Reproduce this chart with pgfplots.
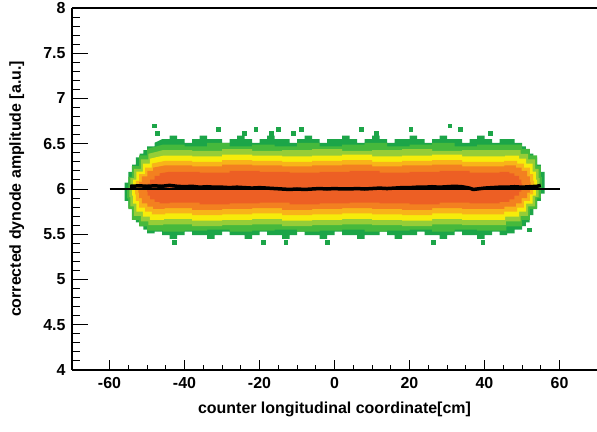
\documentclass[border=0pt]{standalone}
\usepackage{fontspec}
\setmainfont{Liberation Sans}
\usepackage{pgfplots}
\pgfplotsset{compat=1.18}

\definecolor{dgreen}{RGB}{28,165,72}
\definecolor{mgreen}{RGB}{70,185,60}
\definecolor{lime}{RGB}{150,205,55}
\definecolor{yell}{RGB}{246,236,10}
\definecolor{gold}{RGB}{248,180,25}
\definecolor{oran}{RGB}{243,128,32}
\definecolor{redor}{RGB}{237,95,36}

\begin{document}
\begin{tikzpicture}
\path[use as bounding box] (0,0) rectangle (597bp,432bp);
\begin{axis}[
    at={(72bp,62bp)}, anchor=south west,
    width=525bp, height=362bp, scale only axis,
    xmin=-70, xmax=70, ymin=4, ymax=8,
    axis x line*=box, axis y line*=left,
    tick pos=left, tick align=inside,
    xtick={-60,-40,...,60}, ytick={4,4.5,...,8},
    minor x tick num=3, minor y tick num=4,
    xtick style={/pgfplots/major tick length=10bp, /pgfplots/minor tick length=5bp},
    ytick style={/pgfplots/major tick length=16bp, /pgfplots/minor tick length=8bp},
    every tick/.style={black, line width=0.9bp},
    axis line style={line width=1.3bp},
    /pgf/number format/assume math mode=true,
    ticklabel style={font=\bfseries\fontsize{16}{18}\selectfont},
    xticklabel style={yshift=-4bp},
    yticklabel style={xshift=-3bp},
    label style={font=\bfseries\fontsize{16}{18}\selectfont},
    xlabel={counter longitudinal coordinate[cm]},
    ylabel={corrected dynode amplitude [a.u.]},
    xlabel style={at={(axis description cs:0.5,-0.11)}, anchor=center},
    ylabel style={at={(axis description cs:-0.105,0.5)}, anchor=center},
]
% density layers of the 2D histogram, outer to inner
\addplot[fill=dgreen, draw=none, const plot] coordinates {
 (-46,6.55) (-44,6.59) (-42,6.55) (-40,6.51) (-38,6.55) (-36,6.59) (-34,6.55) (-32,6.55) (-30,6.51) (-28,6.55)
 (-26,6.59) (-24,6.55) (-22,6.51) (-20,6.55) (-18,6.59) (-16,6.55) (-14,6.55) (-12,6.51) (-10,6.55) (-8,6.59)
 (-6,6.55) (-4,6.51) (-2,6.55) (0,6.55) (2,6.59) (4,6.55) (6,6.51) (8,6.55) (10,6.59) (12,6.55) (14,6.51)
 (16,6.55) (18,6.55) (20,6.59) (22,6.55) (24,6.51) (26,6.55) (28,6.59) (30,6.55) (32,6.55) (34,6.51)
 (36,6.55) (38,6.59) (40,6.55) (42,6.51) (44,6.55) (46,6.55)
 (48,6.51) (50,6.47) (51,6.43) (52,6.39) (53,6.35) (54,6.27) (55,6.19) (56,6.07) (56,5.95)
 (55,5.87) (54,5.79) (53,5.71) (52,5.63) (51,5.59) (50,5.55) (48,5.51)
 (46,5.49) (44,5.53) (42,5.49) (40,5.45) (38,5.49) (36,5.49) (34,5.53) (32,5.49) (30,5.45) (28,5.49)
 (26,5.49) (24,5.53) (22,5.49) (20,5.49) (18,5.45) (16,5.49) (14,5.53) (12,5.49) (10,5.49) (8,5.45)
 (6,5.49) (4,5.49) (2,5.53) (0,5.49) (-2,5.45) (-4,5.49) (-6,5.49) (-8,5.53) (-10,5.49) (-12,5.45)
 (-14,5.49) (-16,5.49) (-18,5.53) (-20,5.49) (-22,5.45) (-24,5.49) (-26,5.49) (-28,5.53) (-30,5.49)
 (-32,5.45) (-34,5.49) (-36,5.49) (-38,5.53) (-40,5.49) (-42,5.45) (-44,5.49) (-46,5.53)
 (-48,5.51) (-50,5.55) (-51,5.59) (-52,5.63) (-53,5.71) (-54,5.79) (-55,5.87) (-56,5.95) (-56,6.07)
 (-55,6.19) (-54,6.27) (-53,6.35) (-52,6.39) (-51,6.43) (-50,6.47) (-48,6.51)
};
\addplot[fill=mgreen, draw=none, const plot] coordinates {
 (-45.8,6.49) (-40,6.47) (-34,6.51) (-28,6.47) (-22,6.49) (-16,6.47) (-10,6.51) (-4,6.47) (2,6.49) (8,6.51)
 (14,6.47) (20,6.49) (26,6.51) (32,6.47) (38,6.49) (45.8,6.49)
 (49.94,6.443) (52.08,6.371) (54.03,6.253) (55.0,6.134) (55.3,6.015) (55.0,5.896) (54.03,5.778)
 (52.08,5.659) (49.94,5.588) (45.8,5.54)
 (38,5.55) (32,5.53) (26,5.55) (20,5.54) (14,5.53) (8,5.55) (2,5.54) (-4,5.53) (-10,5.55) (-16,5.54)
 (-22,5.53) (-28,5.55) (-34,5.54) (-40,5.53) (-45.8,5.54)
 (-49.94,5.588) (-52.08,5.659) (-54.03,5.778) (-55.0,5.896) (-55.3,6.015) (-55.0,6.134) (-54.03,6.253)
 (-52.08,6.371) (-49.94,6.443)
};
\addplot[fill=lime, draw=none, const plot] coordinates {
 (-45.7,6.43) (-38,6.42) (-30,6.44) (-22,6.42) (-14,6.43) (-6,6.44) (2,6.42) (10,6.43) (18,6.44) (26,6.42)
 (34,6.43) (45.7,6.43)
 (49.62,6.389) (51.65,6.326) (53.49,6.223) (54.41,6.119) (54.7,6.015) (54.41,5.911) (53.49,5.808)
 (51.65,5.704) (49.62,5.642) (45.7,5.60)
 (34,5.61) (26,5.59) (18,5.60) (10,5.61) (2,5.60) (-6,5.59) (-14,5.61) (-22,5.60) (-30,5.59) (-38,5.61) (-45.7,5.60)
 (-49.62,5.642) (-51.65,5.704) (-53.49,5.808) (-54.41,5.911) (-54.7,6.015) (-54.41,6.119) (-53.49,6.223)
 (-51.65,6.326) (-49.62,6.389)
};
\addplot[fill=yell, draw=none, const plot] coordinates {
 (-45.5,6.37) (-38,6.36) (-30,6.38) (-22,6.37) (-14,6.36) (-6,6.37) (2,6.38) (10,6.36) (18,6.37) (26,6.38)
 (34,6.36) (45.5,6.37)
 (49.21,6.335) (51.12,6.281) (52.86,6.193) (53.73,6.104) (54,6.015) (53.73,5.926) (52.86,5.838)
 (51.12,5.749) (49.21,5.696) (45.5,5.66)
 (34,5.67) (26,5.65) (18,5.66) (10,5.67) (2,5.66) (-6,5.65) (-14,5.67) (-22,5.66) (-30,5.65) (-38,5.67) (-45.5,5.66)
 (-49.21,5.696) (-51.12,5.749) (-52.86,5.838) (-53.73,5.926) (-54,6.015) (-53.73,6.104) (-52.86,6.193)
 (-51.12,6.281) (-49.21,6.335)
};
\addplot[fill=gold, draw=none, const plot] coordinates {
 (-45.2,6.31) (-38,6.30) (-30,6.32) (-22,6.31) (-14,6.30) (-6,6.31) (2,6.32) (10,6.30) (18,6.31) (26,6.32)
 (34,6.30) (45.2,6.31)
 (48.69,6.281) (50.49,6.236) (52.13,6.163) (52.94,6.089) (53.2,6.015) (52.94,5.941) (52.13,5.868)
 (50.49,5.794) (48.69,5.75) (45.2,5.72)
 (34,5.73) (26,5.71) (18,5.72) (10,5.73) (2,5.72) (-6,5.71) (-14,5.73) (-22,5.72) (-30,5.71) (-38,5.73) (-45.2,5.72)
 (-48.69,5.75) (-50.49,5.794) (-52.13,5.868) (-52.94,5.941) (-53.2,6.015) (-52.94,6.089) (-52.13,6.163)
 (-50.49,6.236) (-48.69,6.281)
};
\addplot[fill=oran, draw=none, const plot] coordinates {
 (-45.3,6.26) (-38,6.25) (-30,6.27) (-22,6.26) (-14,6.25) (-6,6.26) (2,6.27) (10,6.25) (18,6.26) (26,6.27)
 (34,6.25) (45.3,6.26)
 (48.35,6.236) (49.93,6.2) (51.36,6.14) (52.08,6.08) (52.3,6.02) (52.08,5.96) (51.36,5.90)
 (49.93,5.84) (48.35,5.804) (45.3,5.78)
 (34,5.79) (26,5.77) (18,5.78) (10,5.79) (2,5.78) (-6,5.77) (-14,5.79) (-22,5.78) (-30,5.77) (-38,5.79) (-45.3,5.78)
 (-48.35,5.804) (-49.93,5.84) (-51.36,5.90) (-52.08,5.96) (-52.3,6.02) (-52.08,6.08) (-51.36,6.14)
 (-49.93,6.2) (-48.35,6.236)
};
\addplot[fill=redor, draw=none, const plot] coordinates {
 (-44,6.19) (-36,6.18) (-28,6.20) (-20,6.19) (-12,6.18) (-4,6.19) (4,6.20) (12,6.18) (20,6.19) (28,6.20)
 (36,6.18) (44,6.19)
 (46.62,6.173) (47.97,6.146) (49.2,6.103) (49.81,6.059) (50,6.015) (49.81,5.971) (49.2,5.928)
 (47.97,5.884) (46.62,5.858) (44,5.84)
 (36,5.85) (28,5.83) (20,5.84) (12,5.85) (4,5.84) (-4,5.83) (-12,5.85) (-20,5.84) (-28,5.83) (-36,5.85) (-44,5.84)
 (-46.62,5.858) (-47.97,5.884) (-49.2,5.928) (-49.81,5.971) (-50,6.015) (-49.81,6.059) (-49.2,6.103)
 (-47.97,6.146) (-46.62,6.173)
};
% isolated cells outside the band
\addplot[only marks, mark=square*, mark size=1.9bp, color=dgreen] coordinates {
 (-48,6.70) (-47.2,6.62) (-31,6.66) (-24,6.62) (-21,6.66) (-16.8,6.62) (-15,6.66) (-11,6.62) (-8.8,6.66)
 (7.2,6.66) (11.2,6.62) (20.3,6.66) (30.7,6.70) (33.6,6.66) (41.6,6.62)
 (-42.7,5.41) (-19,5.41) (-13,5.41) (-2,5.41) (26.4,5.41) (39.5,5.41) (52,5.55)
};
% reference line
\addplot[black, line width=1.3bp] coordinates {(-60,6.0) (60,6.0)};
% profile
\addplot[black, line width=3.5bp] coordinates {
 (-54.5,6.03) (-52,6.035) (-50,6.03) (-48,6.035) (-46,6.03) (-44,6.04) (-42,6.03) (-40,6.025)
 (-38,6.03) (-36,6.02) (-34,6.025) (-32,6.02) (-30,6.02) (-28,6.015) (-26,6.02) (-24,6.015)
 (-22,6.01) (-20,6.015) (-18,6.01) (-16,6.005) (-14,6.0) (-12,5.995) (-10,6.0) (-8,5.995)
 (-6,6.0) (-4,6.005) (-2,6.0) (0,6.005) (2,6.0) (4,6.0) (6,6.005) (8,6.0) (10,6.005)
 (12,6.01) (14,6.005) (16,6.01) (18,6.015) (20,6.015) (22,6.02) (24,6.02) (26,6.025)
 (28,6.02) (30,6.025) (32,6.03) (34,6.025) (36,6.01) (37,5.995) (38,6.0) (40,6.01)
 (42,6.015) (44,6.02) (46,6.02) (48,6.025) (50,6.02) (52,6.025) (54,6.03) (55,6.04)
};
\end{axis}
\end{tikzpicture}
\end{document}
